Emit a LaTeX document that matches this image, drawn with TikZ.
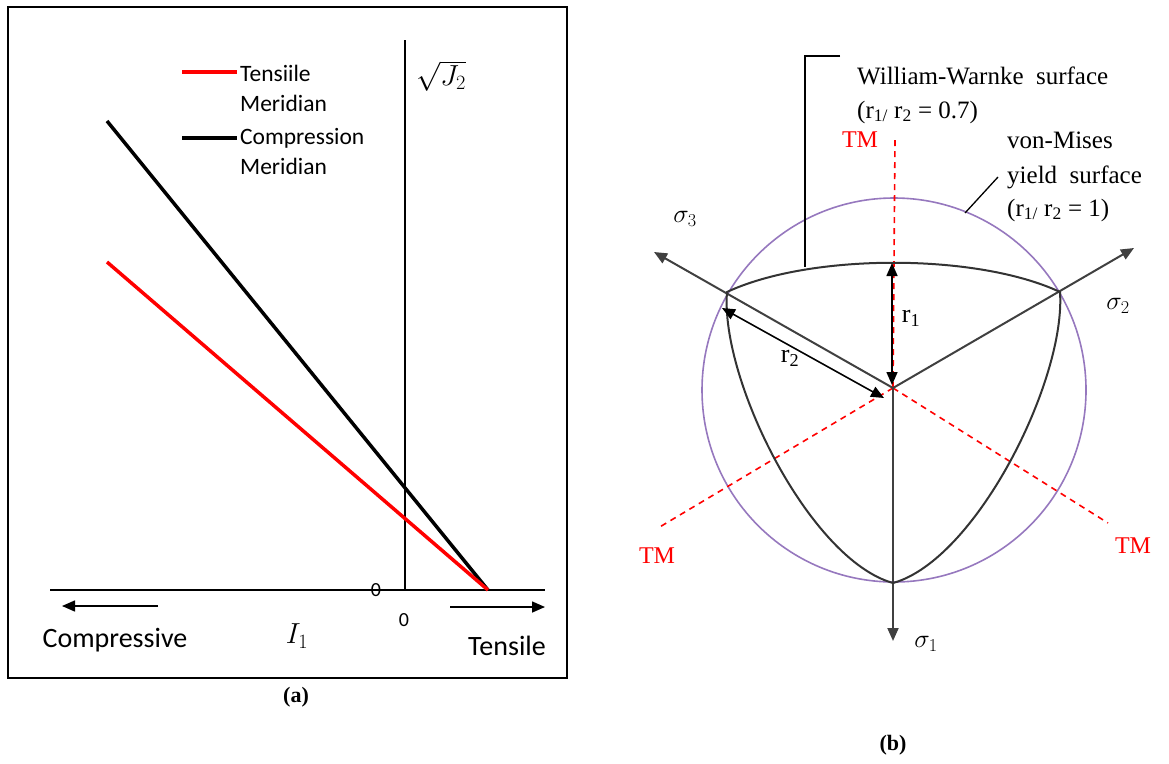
\RequirePackage{fix-cm}
\documentclass[tikz,border=0pt]{standalone}
\usepackage{fontspec}
\setmainfont{Liberation Serif}
\newfontfamily\carlito{Carlito}
\usetikzlibrary{arrows.meta}
\definecolor{vmpurple}{RGB}{150,120,190}
\definecolor{axgray}{RGB}{64,64,64}
\begin{document}
\begin{tikzpicture}[x=1pt,y=-1pt,
  tip/.style={-{Triangle[length=13pt,width=11pt]}},
  dtip/.style={{Triangle[length=13pt,width=11pt]}-{Triangle[length=13pt,width=11pt]}},
  sanslbl/.style={font=\carlito\fontsize{28}{32}\selectfont, inner sep=0pt},
  leglbl/.style={font=\carlito\fontsize{23.5}{28}\selectfont, inner sep=0pt, anchor=west},
  serlbl/.style={font=\fontsize{25}{29}\selectfont, inner sep=0pt, anchor=west},
  tmlbl/.style={font=\fontsize{24}{28}\selectfont, inner sep=0pt, text=red},
  mathlbl/.style={font=\fontsize{26}{30}\selectfont, inner sep=0pt},
  meridian/.style={line width=3.5pt},
  tmline/.style={red, dashed, line width=1.6pt, dash pattern=on 6pt off 5pt},
  sigaxis/.style={axgray, line width=2pt},
]
\useasboundingbox (0,0) rectangle (1169,763);

% ---------- panel (a) ----------
\draw[line width=1.8pt] (8,7) rectangle (567,678);
\coordinate (hL) at (50,590);
\coordinate (hR) at (545,590);
\coordinate (vT) at (405,40);
\coordinate (vB) at (405,590);
\draw[line width=1.5pt] (hL) -- (hR);
\draw[line width=1.5pt] (vT) -- (vB);

\coordinate (apex) at (488,590);
\coordinate (cmStart) at (107,121);
\coordinate (tmStart) at (107,262);
\draw[meridian, black] (cmStart) -- (apex);
\draw[meridian, red] (tmStart) -- (apex);

% legend
\coordinate (lg1a) at (182,72);
\coordinate (lg1b) at (237,72);
\coordinate (lg2a) at (182,138);
\coordinate (lg2b) at (237,138);
\draw[line width=3.5pt, red] (lg1a) -- (lg1b);
\draw[line width=3.5pt, black] (lg2a) -- (lg2b);
\node[leglbl] (lgT1) at (240,73) {Tensiile};
\node[leglbl] (lgT2) at (240,103) {Meridian};
\node[leglbl] (lgC1) at (240,138) {Compression};
\node[leglbl] (lgC2) at (240,166) {Meridian};

% axis labels
\node[mathlbl, font=\fontsize{29}{33}\selectfont] (J2) at (441,76) {$\sqrt{J_2}$};
\node[mathlbl, font=\fontsize{29}{33}\selectfont] (I1) at (297,636) {$I_1$};
\node[font=\carlito\fontsize{20}{24}\selectfont, inner sep=0pt] (zeroA) at (376,590) {0};
\node[font=\carlito\fontsize{20}{24}\selectfont, inner sep=0pt] (zeroB) at (404,620) {0};
\node[sanslbl] (comp) at (115,640) {Compressive};
\node[sanslbl] (tens) at (507,646) {Tensile};

\coordinate (cArrS) at (158,606);
\coordinate (cArrE) at (62,606);
\coordinate (tArrS) at (450,607);
\coordinate (tArrE) at (545,607);
\draw[line width=1.5pt, tip] (cArrS) -- (cArrE);
\draw[line width=1.5pt, tip] (tArrS) -- (tArrE);

\node[font=\bfseries\fontsize{22}{26}\selectfont, inner sep=0pt] (capA) at (296,697) {(a)};

% ---------- panel (b) ----------
\coordinate (O) at (893,388);
\coordinate (s1) at (893,641);
\coordinate (s2) at (1134,248);
\coordinate (s3) at (654,252);

% von Mises circle
\draw[vmpurple, line width=1.6pt] (894,390) circle[radius=192];

% TM dashed lines
\coordinate (tmT) at (895,138);
\coordinate (tmL) at (658,528);
\coordinate (tmR) at (1108,523);
\draw[tmline] (O) -- (tmT);
\draw[tmline] (O) -- (tmL);
\draw[tmline] (O) -- (tmR);

% sigma axes
\draw[sigaxis, tip] (O) -- (s1);
\draw[sigaxis, tip] (O) -- (s2);
\draw[sigaxis, tip] (O) -- (s3);

% William-Warnke surface
\coordinate (A) at (727,292);
\coordinate (B) at (1060,292);
\coordinate (C) at (893,583);
\draw[black!80, line width=2pt]
  (A) .. controls (810,253) and (977,253) .. (B)
      .. controls (1066,380) and (976,560) .. (C)
      .. controls (810,560) and (720,380) .. (A) -- cycle;

% r1, r2 arrows
\coordinate (r1T) at (892,263);
\coordinate (r1B) at (892,385);
\draw[line width=1.6pt, dtip] (r1T) -- (r1B);
\coordinate (r2A) at (722,308);
\coordinate (r2B) at (884,398);
\draw[line width=1.6pt, dtip] (r2A) -- (r2B);
\node[font=\fontsize{26}{30}\selectfont, inner sep=0pt] (r1) at (911,318) {r\textsubscript{1}};
\node[font=\fontsize{26}{30}\selectfont, inner sep=0pt] (r2) at (790,358) {r\textsubscript{2}};

% sigma labels
\node[mathlbl] (sig1) at (926,644) {$\sigma_1$};
\node[mathlbl] (sig2) at (1118,306) {$\sigma_2$};
\node[mathlbl] (sig3) at (685,219) {$\sigma_3$};

% TM labels
\node[tmlbl] (tmlT) at (860,140) {TM};
\node[tmlbl] (tmlL) at (657,556) {TM};
\node[tmlbl] (tmlR) at (1133,546) {TM};

% surface labels
\node[serlbl] (ww1) at (857,76) {William-Warnke\ \ surface};
\node[serlbl] (ww2) at (857,112) {(r\textsubscript{1/} r\textsubscript{2} = 0.7)};
\node[serlbl] (vm1) at (1007,140) {von-Mises};
\node[serlbl] (vm2) at (1007,177) {yield\ \ surface};
\node[serlbl] (vm3) at (1007,210) {(r\textsubscript{1/} r\textsubscript{2} = 1)};

% leaders
\coordinate (wwL1) at (840,56);
\coordinate (wwL2) at (805,56);
\coordinate (wwL3) at (805,267);
\draw[line width=1.6pt] (wwL1) -- (wwL2) -- (wwL3);
\coordinate (vmL1) at (998,177);
\coordinate (vmL2) at (965,213);
\draw[line width=1.3pt] (vmL1) -- (vmL2);

\node[font=\bfseries\fontsize{22}{26}\selectfont, inner sep=0pt] (capB) at (893,745) {(b)};
\end{tikzpicture}
\end{document}
